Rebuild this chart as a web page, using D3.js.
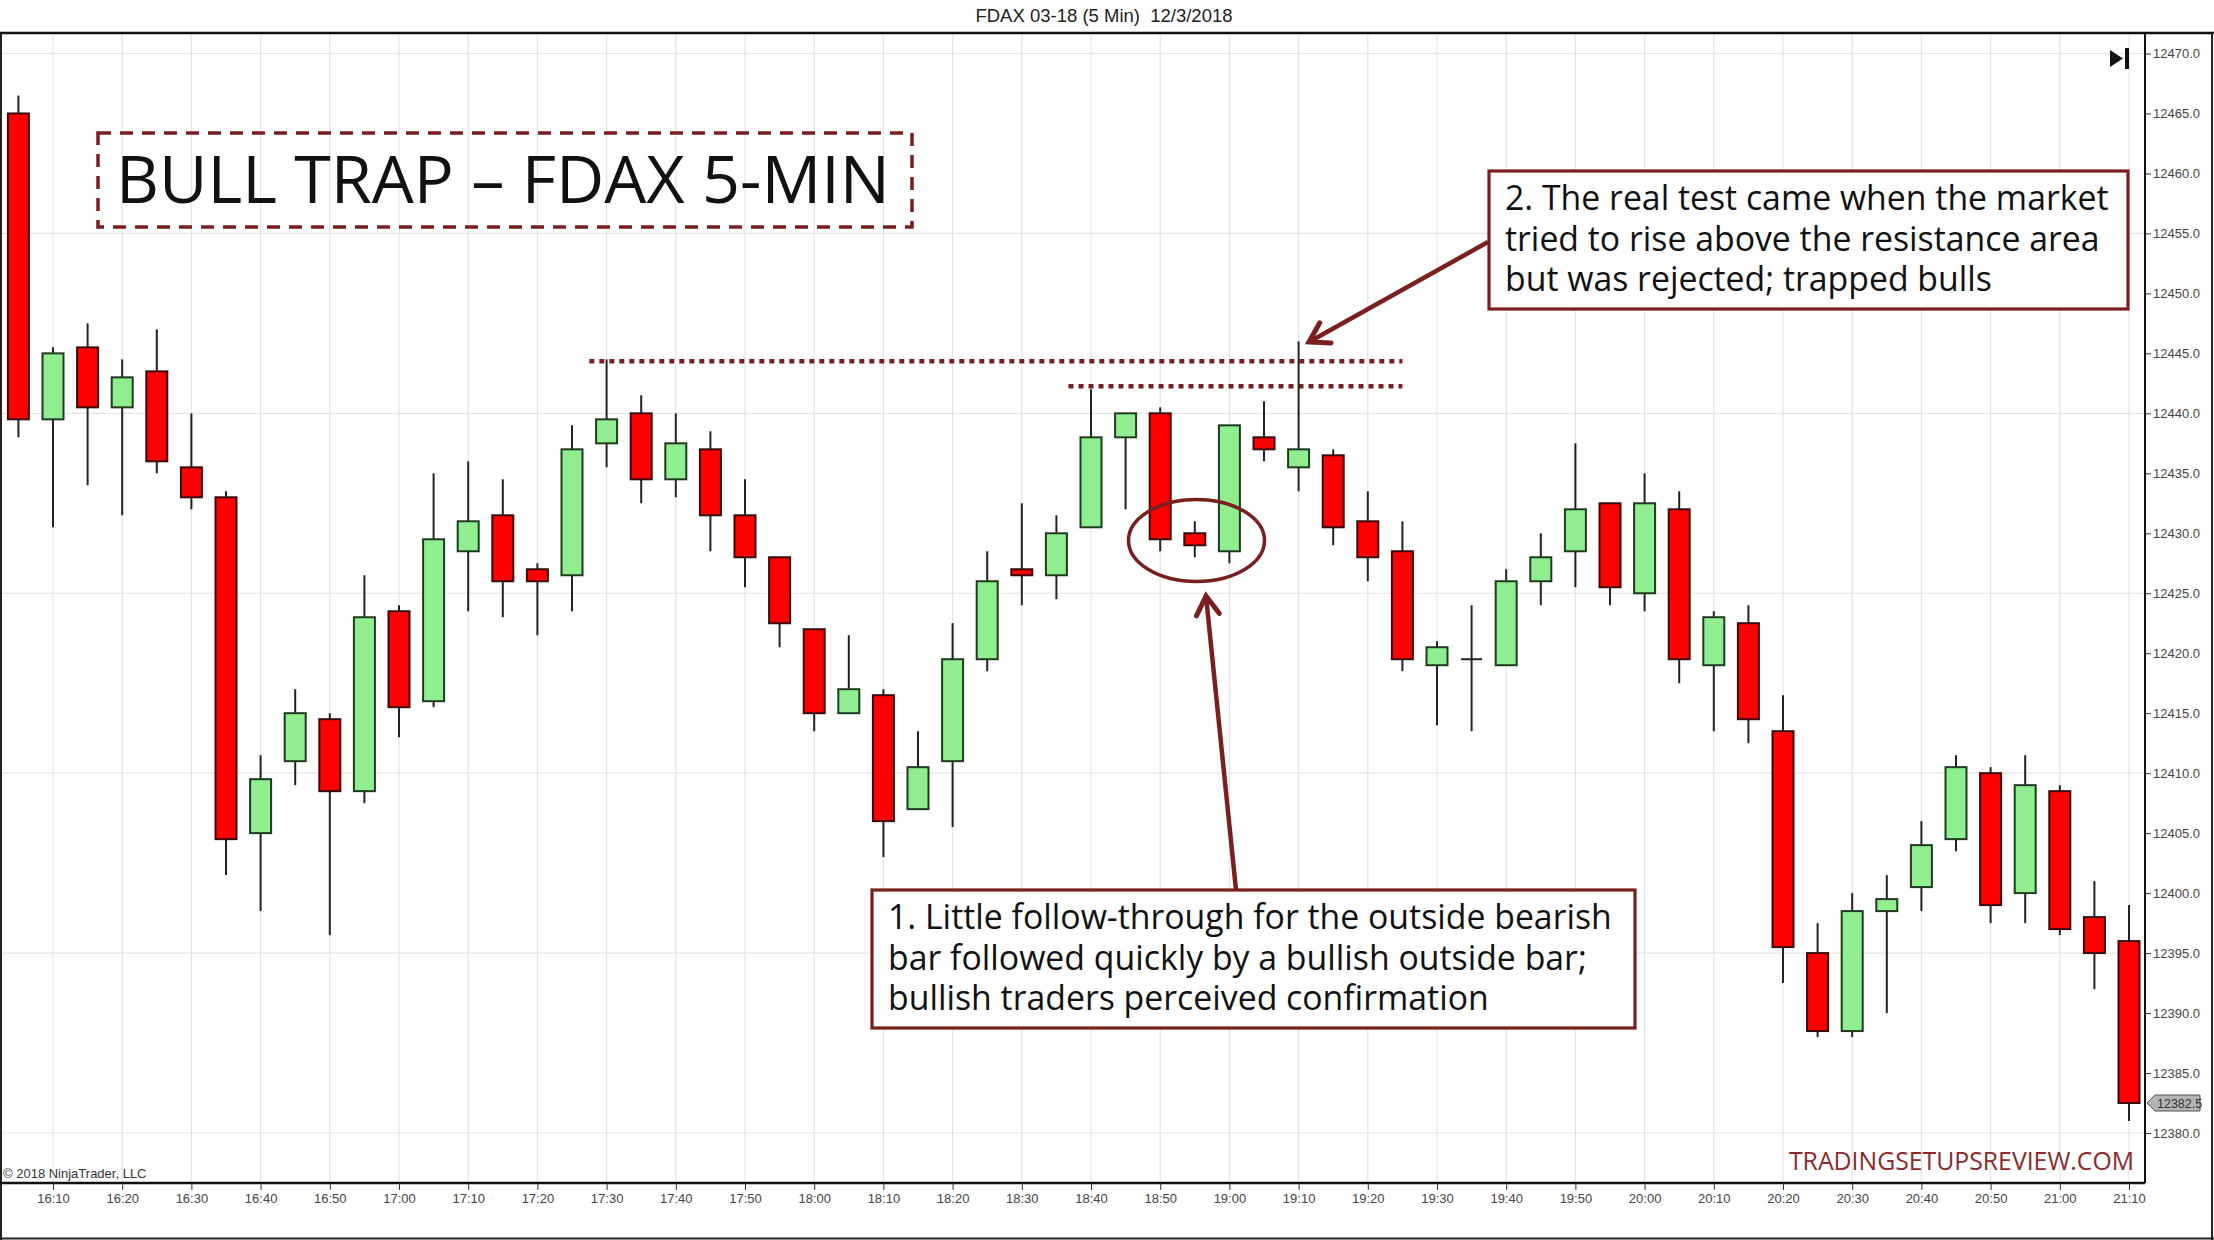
<!DOCTYPE html>
<html>
<head>
<meta charset="utf-8">
<script src="https://cdn.jsdelivr.net/npm/d3@7"></script>
<style>
  html, body { margin: 0; padding: 0; background: #fff; }
  svg { display: block; }
  text { white-space: pre; }
</style>
</head>
<body>
<svg id="chart" width="2214" height="1240"></svg>
<script>
// ---------------- DATA ----------------
const times = ["16:05","16:10","16:15","16:20","16:25","16:30","16:35","16:40","16:45","16:50",
  "16:55","17:00","17:05","17:10","17:15","17:20","17:25","17:30","17:35","17:40",
  "17:45","17:50","17:55","18:00","18:05","18:10","18:15","18:20","18:25","18:30",
  "18:35","18:40","18:45","18:50","18:55","19:00","19:05","19:10","19:15","19:20",
  "19:25","19:30","19:35","19:40","19:45","19:50","19:55","20:00","20:05","20:10",
  "20:15","20:20","20:25","20:30","20:35","20:40","20:45","20:50","20:55","21:00",
  "21:05","21:10"];
const opens = [12465,12439.5,12445.5,12440.5,12443.5,12435.5,12433,12405,12411,12414.5,
  12408.5,12423.5,12416,12428.5,12431.5,12427,12426.5,12437.5,12440,12434.5,
  12437,12431.5,12428,12422,12415,12416.5,12407,12411,12419.5,12427,
  12426.5,12430.5,12438,12440,12430,12428.5,12438,12435.5,12436.5,12431,
  12428.5,12419,12419.5,12419,12426,12428.5,12432.5,12425,12432,12419,
  12422.5,12413.5,12395,12388.5,12398.5,12400.5,12404.5,12410,12400,12408.5,
  12398,12396];
const highs = [12466.5,12445.5,12447.5,12444.5,12447,12440,12433.5,12411.5,12417,12415,
  12426.5,12424,12435,12436,12434.5,12427.5,12439,12444.5,12441.5,12440,
  12438.5,12434.5,12428,12422,12421.5,12417,12413.5,12422.5,12428.5,12432.5,
  12431.5,12442,12440,12440.5,12431,12439,12441,12446,12437,12433.5,
  12431,12421,12424,12427,12430,12437.5,12432.5,12435,12433.5,12423.5,
  12424,12416.5,12397.5,12400,12401.5,12406,12411.5,12410.5,12411.5,12409,
  12401,12399];
const lows = [12438,12430.5,12434,12431.5,12435,12432,12401.5,12398.5,12409,12396.5,
  12407.5,12413,12415.5,12423.5,12423,12421.5,12423.5,12435.5,12432.5,12433,
  12428.5,12425.5,12420.5,12413.5,12415,12403,12407,12405.5,12418.5,12424,
  12424.5,12430.5,12432,12428.5,12428,12427.5,12436,12433.5,12429,12426,
  12418.5,12414,12413.5,12419,12424,12425.5,12424,12423.5,12417.5,12413.5,
  12412.5,12392.5,12388,12388,12390,12398.5,12403.5,12397.5,12397.5,12396.5,
  12392,12381];
const closes = [12439.5,12445,12440.5,12443,12436,12433,12404.5,12409.5,12415,12408.5,
  12423,12415.5,12429.5,12431,12426,12426,12437,12439.5,12434.5,12437.5,
  12431.5,12428,12422.5,12415,12417,12406,12410.5,12419.5,12426,12426.5,
  12430,12438,12440,12429.5,12429,12439,12437,12437,12430.5,12428,
  12419.5,12420.5,12419.5,12426,12428,12432,12425.5,12432.5,12419.5,12423,
  12414.5,12395.5,12388.5,12398.5,12399.5,12404,12410.5,12399,12409,12397,
  12395,12382.5];
const xTickLabels = ["16:10","16:20","16:30","16:40","16:50","17:00","17:10","17:20","17:30","17:40",
  "17:50","18:00","18:10","18:20","18:30","18:40","18:50","19:00","19:10","19:20",
  "19:30","19:40","19:50","20:00","20:10","20:20","20:30","20:40","20:50","21:00","21:10"];
const yTickValues = [12470,12465,12460,12455,12450,12445,12440,12435,12430,12425,12420,12415,
  12410,12405,12400,12395,12390,12385,12380];
const yGridValues = [12470,12455,12440,12425,12410,12395,12380];
const lastPrice = 12382.5;
const chartTitle = "FDAX 03-18 (5 Min)  12/3/2018";
const headline = "BULL TRAP \u2013 FDAX 5-MIN";
// resistance levels: [price, from bar, to bar]
const resistanceLevels = [[12444.35, 16.5, 40], [12442.25, 30.35, 40]];
const note1 = ["1. Little follow-through for the outside bearish",
  "bar followed quickly by a bullish outside bar;",
  "bullish traders perceived confirmation"];
const note2 = ["2. The real test came when the market",
  "tried to rise above the resistance area",
  "but was rejected; trapped bulls"];

// ---------------- LAYOUT ----------------
const W = 2214, H = 1240;
const plotTop = 33, plotBottom = 1183, axisX = 2145;
const dark = "#7a1f1f";
const svg = d3.select("#chart");

const x = d3.scaleLinear().domain([0, times.length - 1]).range([18.4, 2129]);
const y = d3.scaleLinear().domain([12380, 12470]).range([1133, 53.5]);

svg.append("rect").attr("width", W).attr("height", H).attr("fill", "#fff");

// grid
const tickIdx = xTickLabels.map(l => times.indexOf(l));
svg.append("g").selectAll("line").data(tickIdx).join("line")
  .attr("x1", d => x(d)).attr("x2", d => x(d))
  .attr("y1", plotTop).attr("y2", plotBottom)
  .attr("stroke", "#e4e4e4").attr("stroke-width", 1.2);
svg.append("g").selectAll("line").data(yGridValues).join("line")
  .attr("x1", 0).attr("x2", axisX)
  .attr("y1", d => y(d)).attr("y2", d => y(d))
  .attr("stroke", "#e4e4e4").attr("stroke-width", 1.2);

// title
svg.append("text").attr("x", 1104).attr("y", 22).attr("text-anchor", "middle")
  .attr("font-family", "'Liberation Sans', Arial, sans-serif").attr("font-size", 18.5)
  .attr("fill", "#222").text(chartTitle);

// frame
svg.append("line").attr("x1", 0).attr("x2", W).attr("y1", plotTop).attr("y2", plotTop)
  .attr("stroke", "#111").attr("stroke-width", 2.5);
svg.append("line").attr("x1", 1).attr("x2", 1).attr("y1", plotTop).attr("y2", H)
  .attr("stroke", "#222").attr("stroke-width", 2);
svg.append("line").attr("x1", 2212).attr("x2", 2212).attr("y1", plotTop).attr("y2", H)
  .attr("stroke", "#222").attr("stroke-width", 2);
svg.append("line").attr("x1", 0).attr("x2", W).attr("y1", 1238.5).attr("y2", 1238.5)
  .attr("stroke", "#222").attr("stroke-width", 2);

// axes
const yAxis = d3.axisRight(y).tickValues(yTickValues).tickFormat(d3.format(".1f"))
  .tickSize(6).tickSizeOuter(0).tickPadding(2);
const gy = svg.append("g").attr("transform", `translate(${axisX},0)`).call(yAxis);
gy.select(".domain").attr("d", `M0,${plotTop}V${plotBottom}`).attr("stroke", "#111").attr("stroke-width", 2);
gy.selectAll(".tick line").attr("stroke", "#333");
gy.selectAll(".tick text").attr("font-family", "'Liberation Sans', Arial, sans-serif")
  .attr("font-size", 13).attr("fill", "#444");

const xAxis = d3.axisBottom(x).tickValues(tickIdx).tickFormat(i => times[i])
  .tickSize(7).tickSizeOuter(0).tickPadding(4);
const gx = svg.append("g").attr("transform", `translate(0,${plotBottom})`).call(xAxis);
gx.select(".domain").attr("d", `M0,0H${axisX}`).attr("stroke", "#111").attr("stroke-width", 2.5);
gx.selectAll(".tick line").attr("stroke", "#333");
gx.selectAll(".tick text").attr("font-family", "'Liberation Sans', Arial, sans-serif")
  .attr("font-size", 13).attr("fill", "#444");

// copyright and watermark
svg.append("text").attr("x", 3).attr("y", 1178)
  .attr("font-family", "'Liberation Sans', Arial, sans-serif").attr("font-size", 13)
  .attr("fill", "#333").text("\u00a9 2018 NinjaTrader, LLC");
svg.append("text").attr("x", 2134).attr("y", 1170).attr("text-anchor", "end")
  .attr("font-family", "'Open Sans', sans-serif").attr("font-size", 24.8)
  .attr("fill", "#8a2a2a").text("TRADINGSETUPSREVIEW.COM");

// resistance dotted lines
svg.append("g").selectAll("line").data(resistanceLevels).join("line")
  .attr("x1", d => x(d[1])).attr("x2", d => x(d[2]))
  .attr("y1", d => y(d[0])).attr("y2", d => y(d[0]))
  .attr("stroke", dark).attr("stroke-width", 4.5).attr("stroke-dasharray", "5,5");

// candles
const bars = d3.range(times.length).map(i => ({i, o: opens[i], h: highs[i], l: lows[i], c: closes[i]}));
const cg = svg.append("g");
cg.selectAll("line.wick").data(bars).join("line").attr("class", "wick")
  .attr("x1", d => x(d.i)).attr("x2", d => x(d.i))
  .attr("y1", d => y(d.h)).attr("y2", d => y(d.l))
  .attr("stroke", "#222").attr("stroke-width", 2);
const bw = 21;
cg.selectAll("rect.body").data(bars.filter(d => d.o !== d.c)).join("rect").attr("class", "body")
  .attr("x", d => x(d.i) - bw / 2).attr("width", bw)
  .attr("y", d => y(Math.max(d.o, d.c)))
  .attr("height", d => Math.abs(y(d.o) - y(d.c)))
  .attr("fill", d => d.c > d.o ? "#90ee90" : "#ff0000")
  .attr("stroke", d => d.c > d.o ? "#1d3b1d" : "#3a0a0a").attr("stroke-width", 2);
cg.selectAll("line.doji").data(bars.filter(d => d.o === d.c)).join("line").attr("class", "doji")
  .attr("x1", d => x(d.i) - bw / 2).attr("x2", d => x(d.i) + bw / 2)
  .attr("y1", d => y(d.o)).attr("y2", d => y(d.o))
  .attr("stroke", "#222").attr("stroke-width", 2);

// last price marker
const ly = y(lastPrice);
svg.append("path")
  .attr("d", `M${axisX + 2},${ly} L${axisX + 10},${ly - 8} H${axisX + 55} V${ly + 8} H${axisX + 10} Z`)
  .attr("fill", "#b4b4b4").attr("stroke", "#555").attr("stroke-width", 1);
svg.append("text").attr("x", axisX + 12).attr("y", ly + 4.5)
  .attr("font-family", "'Liberation Sans', Arial, sans-serif").attr("font-size", 12.5)
  .attr("fill", "#333").text(d3.format(".1f")(lastPrice));

// end-of-chart icon
svg.append("path").attr("d", "M2110,50 L2123,58.5 L2110,67 Z").attr("fill", "#111");
svg.append("rect").attr("x", 2125).attr("y", 48).attr("width", 4).attr("height", 21).attr("fill", "#111");

// headline box
svg.append("rect").attr("x", 98).attr("y", 133).attr("width", 814).attr("height", 94)
  .attr("fill", "none").attr("stroke", dark).attr("stroke-width", 3.5)
  .attr("stroke-dasharray", "13,9");
svg.append("text").attr("x", 116).attr("y", 203)
  .attr("font-family", "'Open Sans', sans-serif").attr("font-size", 66.5)
  .attr("fill", "#111").text(headline);

// ellipse
svg.append("ellipse").attr("cx", 1196.5).attr("cy", 540.5).attr("rx", 68).attr("ry", 41)
  .attr("fill", "none").attr("stroke", dark).attr("stroke-width", 3.5);

// arrows
function arrow(x1, y1, x2, y2) {
  const g = svg.append("g");
  g.append("line").attr("x1", x1).attr("y1", y1).attr("x2", x2).attr("y2", y2)
    .attr("stroke", dark).attr("stroke-width", 4.5);
  const a = Math.atan2(y2 - y1, x2 - x1), L = 22, s = 0.55;
  const p1 = [x2 - L * Math.cos(a - s), y2 - L * Math.sin(a - s)];
  const p2 = [x2 - L * Math.cos(a + s), y2 - L * Math.sin(a + s)];
  g.append("path").attr("d", `M${p1[0]},${p1[1]} L${x2},${y2} L${p2[0]},${p2[1]}`)
    .attr("fill", "none").attr("stroke", dark).attr("stroke-width", 5)
    .attr("stroke-linejoin", "miter").attr("stroke-linecap", "round");
}
arrow(1488, 242, 1309, 342);
arrow(1236, 890, 1206, 596);

// note boxes (one text element per note, one tspan per line)
function noteBox(bx, by, bwid, bh, lines) {
  svg.append("rect").attr("x", bx).attr("y", by).attr("width", bwid).attr("height", bh)
    .attr("fill", "#fff").attr("stroke", dark).attr("stroke-width", 3.2);
  const t = svg.append("text").attr("x", bx + 16).attr("y", by + 39)
    .attr("font-family", "'Open Sans', sans-serif").attr("font-size", 33.8)
    .attr("fill", "#111");
  t.selectAll("tspan").data(lines).join("tspan")
    .attr("x", bx + 16).attr("y", (d, k) => by + 39 + k * 40.5)
    .text(d => d);
}
noteBox(1489, 171, 639, 138, note2);
noteBox(872, 890, 763, 138, note1);
</script>
</body>
</html>
